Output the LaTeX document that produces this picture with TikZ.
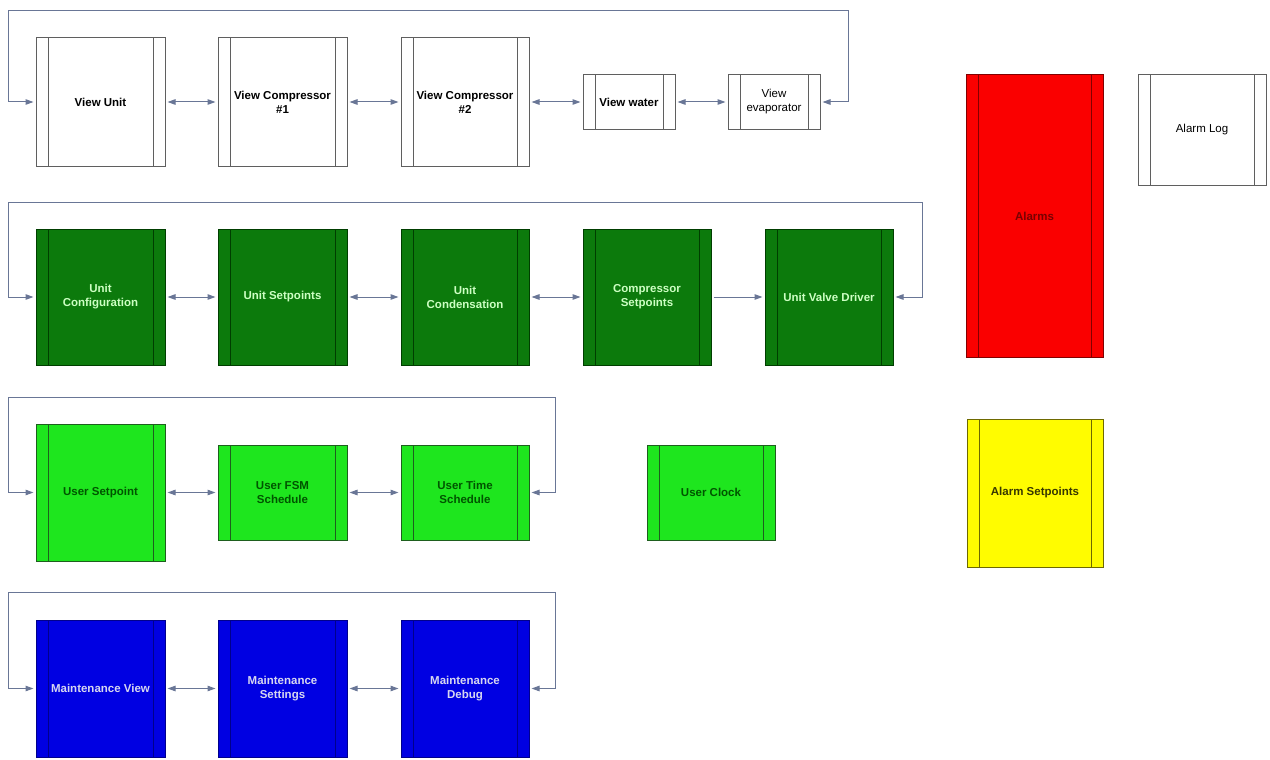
\documentclass[tikz,border=0pt]{standalone}
\usepackage{fontspec}
\setmainfont{Liberation Sans}
\usetikzlibrary{arrows.meta}

\definecolor{linkgray}{RGB}{105,118,150}
\definecolor{boxgray}{RGB}{95,95,95}
\definecolor{dkgreen}{RGB}{12,122,12}
\definecolor{dkgreenline}{RGB}{0,62,0}
\definecolor{dkgreentext}{RGB}{205,255,195}
\definecolor{ltgreen}{RGB}{30,230,30}
\definecolor{ltgreenline}{RGB}{30,95,30}
\definecolor{ltgreentext}{RGB}{0,85,0}
\definecolor{mblue}{RGB}{0,0,226}
\definecolor{mblueline}{RGB}{0,0,140}
\definecolor{mbluetext}{RGB}{215,215,240}
\definecolor{alred}{RGB}{250,0,0}
\definecolor{alredline}{RGB}{130,0,0}
\definecolor{alredtext}{RGB}{120,0,0}
\definecolor{alyellow}{RGB}{255,252,0}
\definecolor{alyellowline}{RGB}{110,105,0}
\definecolor{alyellowtext}{RGB}{55,55,0}

\tikzset{
  box/.style n args={3}{draw=#2, fill=#1, text=#3, line width=1pt, inner sep=0pt,
    align=center, font=\fontsize{11.5}{14}\selectfont\bfseries,
    path picture={\draw[#2, line width=1pt]
      ([xshift=12pt]path picture bounding box.north west) -- ([xshift=12pt]path picture bounding box.south west)
      ([xshift=-12pt]path picture bounding box.north east) -- ([xshift=-12pt]path picture bounding box.south east);}},
  sz/.style 2 args={minimum width=#1pt, minimum height=#2pt},
  viewbox/.style={box={white}{boxgray}{black}},
  cfgbox/.style={box={dkgreen}{dkgreenline}{dkgreentext}},
  userbox/.style={box={ltgreen}{ltgreenline}{ltgreentext}},
  maintbox/.style={box={mblue}{mblueline}{mbluetext}},
  link/.style={draw=linkgray, line width=1pt, shorten <=2pt, shorten >=2pt},
  plain/.style={font=\fontsize{11.5}{14}\selectfont}
}

\begin{document}
\begin{tikzpicture}[x=1pt, y=-1pt, >={Triangle[length=8pt,width=5.5pt]}]
  \useasboundingbox (0,0) rectangle (1270,760);
  %%%%% VIEW ROW %%%%%
  \node[viewbox, sz={129}{128}] (vunit) at (100.5,102) {View Unit};
  \node[viewbox, sz={129}{128}] (vcomp1) at (282.5,102) {View Compressor\\\#1};
  \node[viewbox, sz={128}{128}] (vcomp2) at (465,102) {View Compressor\\\#2};
  \node[viewbox, sz={92}{54}] (vwater) at (629,102) {View water};
  \node[viewbox, sz={92}{54}, plain] (vevap) at (774,102) {View\\evaporator};
  \coordinate (r1R) at (848,11);
  \coordinate (r1L) at (8,11);

  \draw[link,<->] (vunit) -- (vcomp1);
  \draw[link,<->] (vcomp1) -- (vcomp2);
  \draw[link,<->] (vcomp2) -- (vwater);
  \draw[link,<->] (vwater) -- (vevap);
  \draw[link,<->] (vevap.east) -| (r1R) -- (r1L) |- (vunit.west);

  %%%%% CONFIG ROW %%%%%
  \node[cfgbox, sz={129}{136}] (ucfg) at (100.5,297) {Unit\\Configuration};
  \node[cfgbox, sz={129}{136}] (usetpts) at (282.5,297) {Unit Setpoints};
  \node[cfgbox, sz={128}{136}] (ucond) at (465,297) {Unit\\Condensation};
  \node[cfgbox, sz={128}{136}] (csetp) at (647,297) {Compressor\\Setpoints};
  \node[cfgbox, sz={128}{136}] (uvd) at (829,297) {Unit Valve Driver};
  \coordinate (r2R) at (922,202);
  \coordinate (r2L) at (8,202);

  \draw[link,<->] (ucfg) -- (usetpts);
  \draw[link,<->] (usetpts) -- (ucond);
  \draw[link,<->] (ucond) -- (csetp);
  \draw[link,->] (csetp) -- (uvd);
  \draw[link,<->] (uvd.east) -| (r2R) -- (r2L) |- (ucfg.west);

  %%%%% USER ROW %%%%%
  \node[userbox, sz={129}{137}] (usetp) at (100.5,492.5) {User Setpoint};
  \node[userbox, sz={129}{95}] (ufsm) at (282.5,492.5) {User FSM\\Schedule};
  \node[userbox, sz={128}{95}] (utime) at (465,492.5) {User Time\\Schedule};
  \node[userbox, sz={128}{95}] (uclock) at (711,492.5) {User Clock};
  \coordinate (r3R) at (555,397);
  \coordinate (r3L) at (8,397);

  \draw[link,<->] (usetp) -- (ufsm);
  \draw[link,<->] (ufsm) -- (utime);
  \draw[link,<->] (utime.east) -| (r3R) -- (r3L) |- (usetp.west);

  %%%%% MAINTENANCE ROW %%%%%
  \node[maintbox, sz={129}{137}] (mview) at (100.5,688.5) {Maintenance View};
  \node[maintbox, sz={129}{137}] (mset) at (282.5,688.5) {Maintenance\\Settings};
  \node[maintbox, sz={128}{137}] (mdebug) at (465,688.5) {Maintenance\\Debug};
  \coordinate (r4R) at (555,592);
  \coordinate (r4L) at (8,592);

  \draw[link,<->] (mview) -- (mset);
  \draw[link,<->] (mset) -- (mdebug);
  \draw[link,<->] (mdebug.east) -| (r4R) -- (r4L) |- (mview.west);

  %%%%% ALARMS %%%%%
  \node[box={alred}{alredline}{alredtext}, sz={137}{282}] (alarms) at (1034.5,216) {Alarms};
  \node[viewbox, sz={128}{110}, plain] (alog) at (1202,130) {Alarm Log};
  \node[box={alyellow}{alyellowline}{alyellowtext}, sz={136}{148}] (alsetp) at (1035,493) {Alarm Setpoints};
\end{tikzpicture}
\end{document}
